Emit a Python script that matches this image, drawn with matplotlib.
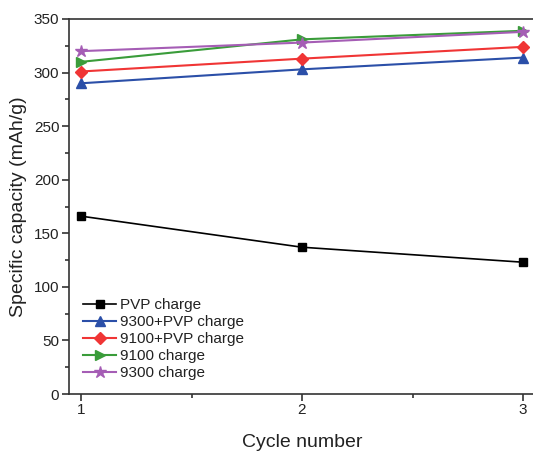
import matplotlib
matplotlib.use('Agg')
import matplotlib.pyplot as plt
from matplotlib.ticker import MultipleLocator

plt.rcParams['font.family'] = ['Liberation Sans', 'DejaVu Sans']

cycles = [1, 2, 3]
pvp = [166, 137, 123]
c9300_pvp = [290, 303, 314]
c9100_pvp = [301, 313, 324]
c9100 = [310, 331, 339]
c9300 = [320, 328, 338]

fig = plt.figure(figsize=(5.33, 4.53), dpi=100)
ax = fig.add_axes([69 / 533, 1 - 394 / 453, 466 / 533, 375 / 453])

ax.plot(cycles, pvp, color='black', marker='s', markersize=6, lw=1.2, label='PVP charge')
ax.plot(cycles, c9300_pvp, color='#2b4fa8', marker='^', markersize=7, lw=1.5, label='9300+PVP charge')
ax.plot(cycles, c9100_pvp, color='#f03535', marker='D', markersize=6, lw=1.5, label='9100+PVP charge')
ax.plot(cycles, c9100, color='#3a9c3a', marker='>', markersize=7, lw=1.5, label='9100 charge')
ax.plot(cycles, c9300, color='#a55db5', marker='*', markersize=9, lw=1.5, label='9300 charge')

ax.set_xlim(1 - 12 / 221, 3 + 12 / 221)
ax.set_ylim(0, 350)
ax.xaxis.set_major_locator(MultipleLocator(1))
ax.xaxis.set_minor_locator(MultipleLocator(0.5))
ax.yaxis.set_major_locator(MultipleLocator(50))
ax.yaxis.set_minor_locator(MultipleLocator(25))
ax.tick_params(which='both', direction='out', labelsize=11, width=1.2,
               colors='#333333', labelcolor='#222222')
ax.tick_params(which='major', length=5)
ax.tick_params(which='minor', length=3)
ax.tick_params(axis='x', which='major', pad=1.5)
ax.tick_params(axis='y', which='major', pad=2)
for s in ax.spines.values():
    s.set_linewidth(1.2)
    s.set_color('#333333')

ax.set_xlabel('Cycle number', fontsize=14, labelpad=12, color='#222222')
ax.set_ylabel('Specific capacity (mAh/g)', fontsize=14, labelpad=5, color='#222222')

leg = ax.legend(loc='lower left', frameon=False, fontsize=11, handlelength=2.2,
                labelspacing=0.2, handletextpad=0.25, borderaxespad=0.5)
for t in leg.get_texts():
    t.set_color('#222222')

fig.savefig('out.png', dpi=100)
